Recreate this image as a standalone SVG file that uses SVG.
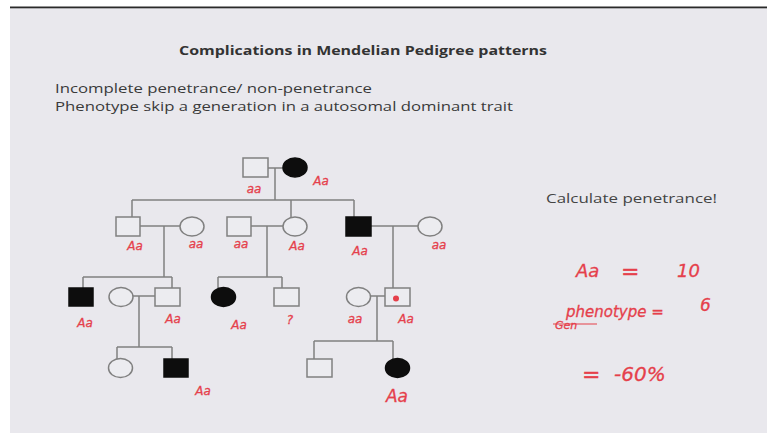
<svg xmlns="http://www.w3.org/2000/svg" width="767" height="435" viewBox="0 0 767 435">
  <style>
    .slide { fill: #e9e8ed; }
    .head { font-family: "Open Sans", "Noto Sans", sans-serif; fill: #333; }
    .title { font-size: 13px; font-weight: bold; }
    .body { font-size: 13px; fill: #3a3a3a; }
    .calc { font-size: 12.5px; fill: #444; }
    .m { fill: #ececf0; stroke: #808080; stroke-width: 1.5; }
    .aff { fill: #0d0d0d; stroke: #0d0d0d; stroke-width: 1.5; }
    .ln { stroke: #808080; stroke-width: 1.5; fill: none; }
    .ink { font-family: "DejaVu Sans", "Liberation Sans", sans-serif; font-style: italic; fill: #e5404b; stroke: #e5404b; stroke-width: 0.3; text-anchor: middle; }
    .lbl { font-size: 12px; }
    .big { font-size: 17px; }
  </style>

  <!-- slide frame -->
  <rect x="0" y="0" width="767" height="435" fill="#ffffff"/>
  <rect class="slide" x="10" y="8" width="757" height="425"/>
  <rect x="10" y="6.5" width="757" height="1.8" fill="#2a2a2a"/>

  <!-- headings -->
  <text class="head title" x="363" y="55" text-anchor="middle" textLength="368" lengthAdjust="spacingAndGlyphs">Complications in Mendelian Pedigree patterns</text>
  <text class="head body" x="55" y="93" textLength="317" lengthAdjust="spacingAndGlyphs">Incomplete penetrance/ non-penetrance</text>
  <text class="head body" x="55" y="111" textLength="458" lengthAdjust="spacingAndGlyphs">Phenotype skip a generation in a autosomal dominant trait</text>
  <text class="head calc" x="546" y="203" textLength="171" lengthAdjust="spacingAndGlyphs">Calculate penetrance!</text>

  <!-- connectors -->
  <g id="connectors">
    <!-- generation I couple and sibship -->
    <path class="ln" d="M268 168 H283 M275 168 V200 M132 200 H354 M132 200 V217 M291 200 V217 M354 200 V217"/>
    <!-- II-1 x II-2 -->
    <path class="ln" d="M140 226 H180 M164 226 V277 M83 277 H172 M83 277 V288 M172 277 V288"/>
    <!-- II-3 x II-4 -->
    <path class="ln" d="M251 226 H283 M267 226 V277 M218 277 H282 M218 277 V288 M282 277 V288"/>
    <!-- II-5 x II-6 -->
    <path class="ln" d="M371 226 H418 M393 226 V288"/>
    <!-- III-2 x III-3 -->
    <path class="ln" d="M133 296 H155 M139 296 V347 M117 347 H172 M117 347 V359 M172 347 V359"/>
    <!-- III-7 x III-8 -->
    <path class="ln" d="M371 296 H385 M377 296 V341 M314 341 H393 M314 341 V359 M393 341 V359"/>
  </g>

  <!-- generation I -->
  <g id="I-1"><rect class="m" x="243" y="158" width="25" height="19"/></g>
  <g id="I-2"><ellipse class="aff" cx="295" cy="167.5" rx="12" ry="9.5"/></g>

  <!-- generation II -->
  <g id="II-1"><rect class="m" x="116" y="217" width="24" height="19"/></g>
  <g id="II-2"><ellipse class="m" cx="192" cy="226.5" rx="12" ry="9.5"/></g>
  <g id="II-3"><rect class="m" x="227" y="217" width="24" height="19"/></g>
  <g id="II-4"><ellipse class="m" cx="295" cy="226.5" rx="12" ry="9.5"/></g>
  <g id="II-5"><rect class="aff" x="346" y="217" width="25" height="19"/></g>
  <g id="II-6"><ellipse class="m" cx="430" cy="226.5" rx="12" ry="9.5"/></g>

  <!-- generation III -->
  <g id="III-1"><rect class="aff" x="69" y="288" width="24" height="18"/></g>
  <g id="III-2"><ellipse class="m" cx="121" cy="297" rx="12" ry="9.5"/></g>
  <g id="III-3"><rect class="m" x="155" y="288" width="25" height="18"/></g>
  <g id="III-4"><ellipse class="aff" cx="223.5" cy="297" rx="12" ry="9.5"/></g>
  <g id="III-5"><rect class="m" x="274" y="288" width="25" height="18"/></g>
  <g id="III-7"><ellipse class="m" cx="358.5" cy="297" rx="12" ry="9.5"/></g>
  <g id="III-8">
    <rect class="m" x="385" y="288" width="25" height="18"/>
    <circle cx="396" cy="298.5" r="3" fill="#e5404b"/>
  </g>

  <!-- generation IV -->
  <g id="IV-1"><ellipse class="m" cx="120.5" cy="368" rx="12" ry="9.5"/></g>
  <g id="IV-2"><rect class="aff" x="164" y="359" width="24" height="18"/></g>
  <g id="IV-3"><rect class="m" x="307" y="359" width="25" height="18"/></g>
  <g id="IV-4"><ellipse class="aff" cx="397.5" cy="368" rx="12" ry="9.5"/></g>

  <!-- genotype notes -->
  <g id="genotypes">
    <text class="ink lbl" x="254" y="193">aa</text>
    <text class="ink lbl" x="321" y="185" font-size="13">Aa</text>
    <text class="ink lbl" x="135" y="250">Aa</text>
    <text class="ink lbl" x="196" y="248">aa</text>
    <text class="ink lbl" x="241" y="248">aa</text>
    <text class="ink lbl" x="297" y="250" font-size="13">Aa</text>
    <text class="ink lbl" x="360" y="255" font-size="15">Aa</text>
    <text class="ink lbl" x="439" y="249">aa</text>
    <text class="ink lbl" x="85" y="327" font-size="15">Aa</text>
    <text class="ink lbl" x="173" y="323">Aa</text>
    <text class="ink lbl" x="239" y="329" font-size="15">Aa</text>
    <text class="ink lbl" x="290" y="324" font-size="13">?</text>
    <text class="ink lbl" x="355" y="323">aa</text>
    <text class="ink lbl" x="406" y="323">Aa</text>
    <text class="ink lbl" x="203" y="395" font-size="13">Aa</text>
    <text class="ink big" x="397" y="402">Aa</text>
  </g>

  <!-- penetrance working -->
  <g id="working" class="ink" style="text-anchor:start">
    <text x="576" y="277" font-size="18">Aa</text>
    <text x="621" y="279" font-size="22">=</text>
    <text x="677" y="277" font-size="18">10</text>
    <text x="566" y="317" font-size="15">phenotype =</text>
    <text x="700" y="311" font-size="17">6</text>
    <text x="555" y="329" font-size="11">Gen</text>
    <path d="M553 324 H597" stroke="#e5404b" stroke-width="1.2"/>
    <text x="582" y="382" font-size="22">=</text>
    <text x="614" y="381" font-size="20">-60%</text>
  </g>
</svg>
